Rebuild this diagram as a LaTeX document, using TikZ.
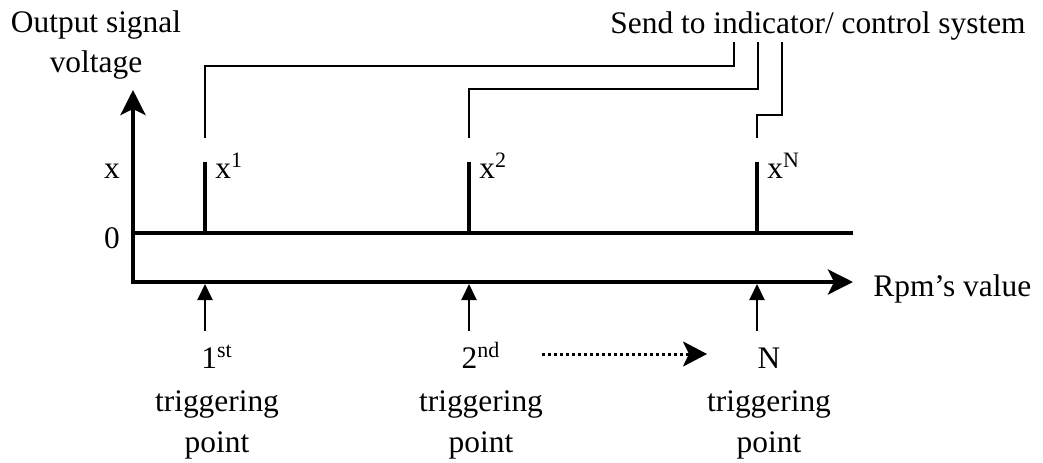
\documentclass[tikz,border=0pt]{standalone}
\usepackage{fontspec}
\setmainfont{Liberation Serif}
\usetikzlibrary{arrows.meta}
\begin{document}
\begin{tikzpicture}[x=0.5pt,y=-0.5pt,
  font=\fontsize{15.7}{17}\selectfont,
  txt/.style={inner sep=0pt, anchor=base},
  axisline/.style={line width=2pt},
  pulse/.style={line width=2pt},
  wire/.style={line width=0.75pt},
  trig/.style={line width=1pt, -{Triangle[length=8pt,width=7.5pt]}},
  seq/.style={line width=1.5pt, dash pattern=on 1.5pt off 1.5pt, -{Stealth[length=12pt,width=12.5pt,inset=3pt]}}
]
\useasboundingbox (0,0) rectangle (1043,462);

% axes
\coordinate (ytip) at (133,90);
\coordinate (orig) at (133,282);
\coordinate (xtip) at (853,282);
\draw[axisline, {Stealth[length=12.5pt,width=12.5pt,inset=3pt]}-{Stealth[length=12.5pt,width=12.5pt,inset=3pt]}] (ytip) -- (orig) -- (xtip);

% zero level line
\coordinate (z0) at (133,233);
\coordinate (z1) at (853,233);
\draw[pulse] (z0) -- (z1);

% axis texts
\node[txt] (ylab1) at (96,32) {Output signal};
\node[txt] (ylab2) at (96,72) {voltage};
\node[txt] (xlev) at (112,178) {x};
\node[txt] (zlev) at (112,248) {0};
\node[txt, anchor=base west] (xlab) at (873,296) {Rpm’s value};
\node[txt] (send) at (818,33) {Send to indicator/ control system};

% pulses and labels
\foreach \i/\px/\ord in {1/205/{1\textsuperscript{st}}, 2/469/{2\textsuperscript{nd}}, N/757/{N}} {
  \coordinate (b\i) at (\px,233);
  \coordinate (t\i) at (\px,162);
  \draw[pulse] (b\i) -- (t\i);
  \node[txt, anchor=base west] (lx\i) at (\px+10,178) {x\textsuperscript{\i}};
  \coordinate (a\i) at (\px,331);
  \coordinate (h\i) at (\px,284);
  \draw[trig] (a\i) -- (h\i);
  \node[txt] (ord\i) at (\px+12,368) {\ord};
  \node[txt] (trg\i) at (\px+12,411) {triggering};
  \node[txt] (pt\i) at (\px+12,452) {point};
}

% wires to indicator
\coordinate (w1s) at (205,138);
\coordinate (w1e) at (734,42);
\coordinate (w2s) at (469,138);
\coordinate (w2e) at (758,42);
\coordinate (w3s) at (757,138);
\coordinate (w3e) at (782,42);
\draw[wire] (w1s) -- ++(0,-72) -| (w1e);
\draw[wire] (w2s) -- ++(0,-49) -| (w2e);
\draw[wire] (w3s) -- ++(0,-23) -| (w3e);

% sequence arrow
\coordinate (s0) at (542,354);
\coordinate (s1) at (707,354);
\draw[seq] (s0) -- (s1);
\end{tikzpicture}
\end{document}
